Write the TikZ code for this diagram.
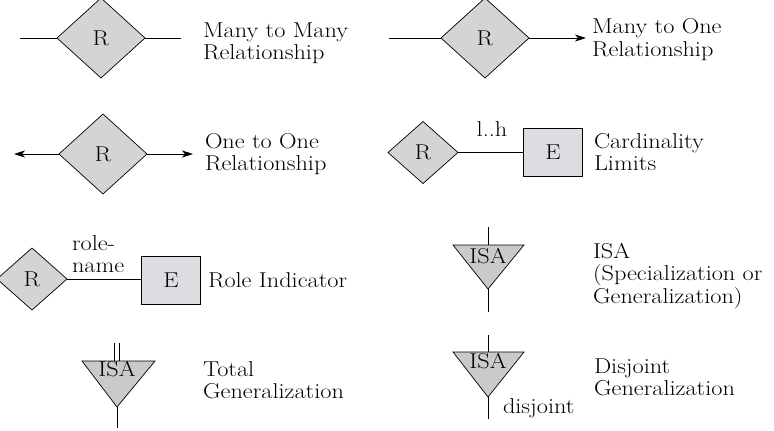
\documentclass[tikz,border=0pt]{standalone}
\usepackage{fontspec}
\setmainfont{Latin Modern Roman}[FakeStretch=1.13]
\usetikzlibrary{shapes.geometric,arrows.meta}
\definecolor{relgray}{RGB}{212,212,212}
\definecolor{entgray}{RGB}{221,220,224}
\definecolor{isagray}{RGB}{202,202,202}
\begin{document}
\begin{tikzpicture}[x=1pt,y=-1pt,
  every node/.style={font=\fontsize{21.5}{22.5}\selectfont, inner sep=0pt, outer sep=0pt},
  bigrel/.style={diamond, draw, fill=relgray, line width=0.7pt, minimum width=88pt, minimum height=80pt},
  smallrel/.style={diamond, draw, fill=relgray, line width=0.7pt, minimum width=70pt, minimum height=62pt},
  ent/.style={rectangle, draw, fill=entgray, line width=0.7pt, minimum width=59pt, minimum height=48pt},
  lbl/.style={anchor=base west},
  conn/.style={line width=0.8pt},
  arr/.style={conn, -{Stealth[length=11pt,width=7pt,inset=3pt]}},
  isatri/.style={draw, fill=isagray, line width=0.7pt, line join=miter}
]
\useasboundingbox (0,0) rectangle (774,431);

% Many to Many
\node[bigrel] (r1) at (101,38) {R};
\coordinate (r1l) at (20,38);
\coordinate (r1r) at (181,38);
\draw[conn] (r1l) -- (r1);
\draw[conn] (r1) -- (r1r);
\node[lbl] (t1) at (203,37) {\vtop{\hbox{Many to Many}\hbox{Relationship}}};

% Many to One
\node[bigrel] (r3) at (485,38) {R};
\coordinate (r3l) at (389,38);
\coordinate (r3r) at (586,38);
\draw[conn] (r3l) -- (r3);
\draw[arr] (r3) -- (r3r);
\node[lbl] (t3) at (592,34) {\vtop{\hbox{Many to One}\hbox{Relationship}}};

% One to One
\node[bigrel] (r2) at (103,154) {R};
\coordinate (r2l) at (14,154);
\coordinate (r2r) at (193,154);
\draw[arr] (r2) -- (r2l);
\draw[arr] (r2) -- (r2r);
\node[lbl] (t2) at (205,148) {\vtop{\hbox{One to One}\hbox{Relationship}}};

% Cardinality limits
\node[smallrel] (r4) at (423,152.5) {R};
\node[ent] (e4) at (553,152.5) {E};
\draw[conn] (r4) -- (e4);
\node[anchor=base] (lh) at (492,136) {l..h};
\node[lbl] (t4) at (594,148) {\vtop{\hbox{Cardinality}\hbox{Limits}}};

% Role indicator
\node[smallrel] (r5) at (32,279) {R};
\node[ent] (e5) at (171,280) {E};
\draw[conn] (r5.east) -- (r5.east -| e5.west);
\node[lbl] (rn) at (72,250) {\vtop{\hbox{role-}\hbox{name}}};
\node[lbl] (t5) at (208,287) {Role Indicator};

% Total generalization
\coordinate (a1) at (82,361);
\coordinate (b1) at (155,361);
\coordinate (c1) at (117,407);
\draw[isatri] (a1) -- (b1) -- (c1) -- cycle;
\node[anchor=base] (i1) at (117,376) {ISA};
\coordinate (d1a) at (114.5,343);
\coordinate (d1b) at (119.5,343);
\coordinate (e1) at (117,428);
\draw[conn] (d1a) -- (d1a |- a1);
\draw[conn] (d1b) -- (d1b |- a1);
\draw[conn] (c1) -- (e1);
\node[lbl] (t6) at (203,376) {\vtop{\hbox{Total}\hbox{Generalization}}};

% ISA
\coordinate (a2) at (453,245);
\coordinate (b2) at (524,245);
\coordinate (c2) at (488,289);
\coordinate (m2) at (488,245);
\draw[isatri] (a2) -- (b2) -- (c2) -- cycle;
\node[anchor=base] (i2) at (488,263) {ISA};
\coordinate (u2) at (488,227);
\coordinate (v2) at (488,312);
\draw[conn] (u2) -- (m2);
\draw[conn] (c2) -- (v2);
\node[lbl] (t7) at (593,258) {\vtop{\hbox{ISA}\hbox{(Specialization or}\hbox{Generalization)}}};

% Disjoint generalization
\coordinate (a3) at (453,352);
\coordinate (b3) at (524,352);
\coordinate (c3) at (488,397);
\coordinate (m3) at (488,352);
\draw[isatri] (a3) -- (b3) -- (c3) -- cycle;
\node[anchor=base] (i3) at (488,368) {ISA};
\coordinate (u3) at (488,335);
\coordinate (v3) at (488,419);
\draw[conn] (u3) -- (m3);
\draw[conn] (c3) -- (v3);
\node[lbl] (dj) at (503,413) {disjoint};
\node[lbl] (t8) at (594,373) {\vtop{\hbox{Disjoint}\hbox{Generalization}}};
\end{tikzpicture}
\end{document}
